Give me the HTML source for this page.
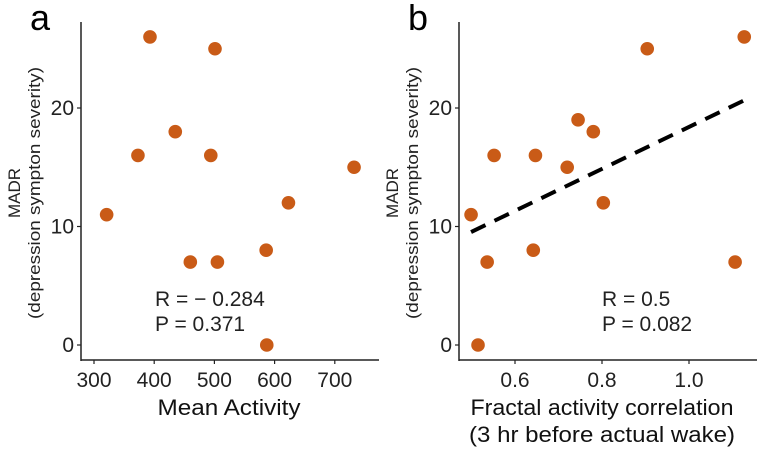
<!DOCTYPE html>
<html><head><meta charset="utf-8"><style>body{margin:0;background:#fff}svg{display:block;font-family:"Liberation Sans",sans-serif}</style></head>
<body>
<svg id="c" width="759" height="449" viewBox="0 0 759 449"></svg>
<script>
const aX=[321,373,393,435,460,494,501,505,586,587,623,732];
const aY=[11,16,26,18,7,16,25,7,8,0,12,15];
const aXTicks=[300,400,500,600,700];
const bX=[0.499,0.515,0.536,0.552,0.642,0.647,0.72,0.745,0.78,0.803,0.904,1.106,1.127];
const bY=[11,0,7,16,8,16,15,19,18,12,25,7,26];
const bXTicks=[0.6,0.8,1.0];
const bXTickLabels=["0.6","0.8","1.0"];
const yTicks=[0,10,20];
const bFit=[0.7,17.7];
const NS="http://www.w3.org/2000/svg";
const svg=document.getElementById('c');
function mk(t,a,p){const e=document.createElementNS(NS,t);for(const k in a)e.setAttribute(k,a[k]);(p||svg).appendChild(e);return e;}
const yS=v=>345-v*11.85;
function panel(o){
 const g=mk('g',{});
 
 
 let t=mk('text',{x:o.ax-51,y:30,'font-size':36},g);t.textContent=o.letter;
 
 let l=mk('line',{x1:o.ax,y1:22,x2:o.ax,y2:361,stroke:'#222','stroke-width':1.5},g);
 
 l=mk('line',{x1:o.ax,y1:360,x2:o.ax+298,y2:360,stroke:'#222','stroke-width':1.5},g);
 
 yTicks.forEach(v=>{mk('line',{x1:o.ax-4,x2:o.ax,y1:yS(v),y2:yS(v),stroke:'#222','stroke-width':1.2},g);
  const tt=mk('text',{x:o.ax-7,y:yS(v)+7,'font-size':21,'text-anchor':'end',fill:'#222'},g);tt.textContent=v;
  });
 o.ticks.forEach((v,i)=>{const x=o.xs(v);mk('line',{x1:x,x2:x,y1:360,y2:364,stroke:'#222','stroke-width':1.2},g);
  const tt=mk('text',{x:x,y:387,'font-size':21,'text-anchor':'middle',fill:'#222'},g);tt.textContent=o.labels[i];
  });
 const yl=mk('text',{transform:`translate(${o.ax-61},193) rotate(-90)`,'font-size':17,'text-anchor':'middle',fill:'#222'},g);
 
 let s=mk('tspan',{x:0,dy:0},yl);s.textContent='MADR';
 s=mk('tspan',{x:0,dy:20,textLength:252,lengthAdjust:'spacingAndGlyphs'},yl);s.textContent='(depression sympton severity)';
 o.xl.forEach((txt,i)=>{const tt=mk('text',{x:o.xlx,y:415+i*27,'font-size':22,'text-anchor':'middle',fill:'#111',textLength:o.xlw[i],lengthAdjust:'spacingAndGlyphs'},g);tt.textContent=txt;
  });
 o.stats.forEach((txt,i)=>{const tt=mk('text',{x:o.sx,y:306+i*25,'font-size':21,fill:'#222'},g);tt.textContent=txt;
  });
 if(o.fit){const x0=Math.min(...o.X),x1=Math.max(...o.X);
  const fl=mk('line',{x1:o.xs(x0),y1:yS(o.fit[0]+o.fit[1]*x0),x2:o.xs(x1),y2:yS(o.fit[0]+o.fit[1]*x1),stroke:'#000','stroke-width':4,'stroke-dasharray':'16 10'},g);
  }
 o.X.forEach((v,i)=>{const c=mk('circle',{cx:o.xs(v),cy:yS(o.Y[i]),r:6.8,fill:'#c95b17'},g);
  });
}
panel({name:'panel-a',letter:'a',ax:81,xs:v=>94+(v-300)*0.602,ticks:aXTicks,labels:aXTicks.map(String),X:aX,Y:aY,
 xl:['Mean Activity'],xlw:[143],xlx:229,stats:['R = \u2212 0.284','P = 0.371'],sx:155});
panel({name:'panel-b',letter:'b',ax:459,xs:v=>515+(v-0.6)*435,ticks:bXTicks,labels:bXTickLabels,X:bX,Y:bY,fit:bFit,
 xl:['Fractal activity correlation','(3 hr before actual wake)'],xlw:[263,266],xlx:602,stats:['R = 0.5','P = 0.082'],sx:602});
</script>
</body></html>
